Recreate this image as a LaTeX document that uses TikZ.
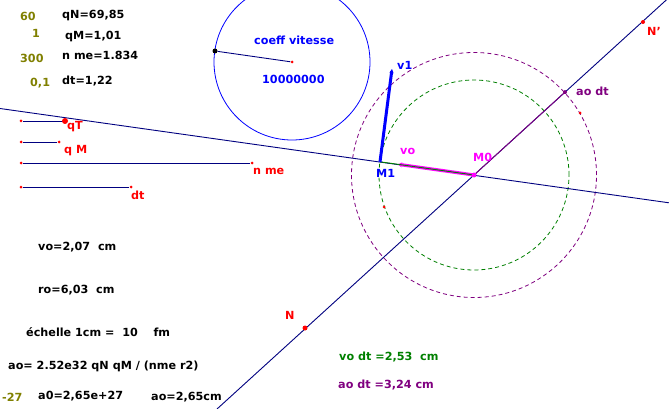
\documentclass[tikz,border=0pt]{standalone}
\usepackage{fontspec}
\setmainfont{DejaVu Sans}
\usetikzlibrary{arrows.meta}
\definecolor{olivetxt}{HTML}{808000}
\definecolor{navyline}{HTML}{000080}
\definecolor{redpt}{HTML}{FF0000}
\definecolor{bluetxt}{HTML}{0000FF}
\definecolor{greentxt}{HTML}{008000}
\definecolor{purpletxt}{HTML}{800080}
\definecolor{magentatxt}{HTML}{FF00FF}
\tikzset{
    lab/.style={font=\bfseries\fontsize{11.2}{12}\selectfont, inner sep=0pt, anchor=west},
    pt/.style={circle, fill=redpt, inner sep=0pt, minimum size=3pt},
    bigpt/.style={circle, fill=redpt, inner sep=0pt, minimum size=6pt},
    line/.style={navyline, line width=0.9pt},
    dashgreen/.style={greentxt, line width=0.8pt, dash pattern=on 4pt off 3pt},
    dashpurple/.style={purpletxt, line width=0.8pt, dash pattern=on 4pt off 3pt}
}
\begin{document}
\begin{tikzpicture}[x=1pt, y=-1pt]
    \useasboundingbox[fill=white] (0,0) rectangle (669,409);
    % cercles
    \node[draw=bluetxt, line width=0.8pt, circle, minimum size=156pt, inner sep=0pt] (cv) at (292,62) {};
    \node[draw, dashgreen, circle, minimum size=190pt, inner sep=0pt] (cg) at (474,175) {};
    \node[draw, dashpurple, circle, minimum size=245pt, inner sep=0pt] (cp) at (474,175) {};
    % points
    \coordinate (Mzero) at (474,175);
    \coordinate (Mone) at (380,161.8);
    \coordinate (vone) at (392,69);
    \coordinate (vo) at (398,164.3);
    \coordinate (aodt) at (565,92.1);
    \coordinate (Lg) at (0,108.5);
    \coordinate (Ld) at (669,202.8);
    \coordinate (Nb) at (217,409);
    \coordinate (Nh) at (669,-2.5);
    \node[pt] (pa) at (580,113) {};
    \node[pt] (pb) at (384,207) {};
    % droites
    \draw[line] (Lg) -- (Ld);
    \draw[line] (Nb) -- (Nh);
    \draw[purpletxt, line width=0.9pt] (Mzero) -- (aodt);
    \fill[purpletxt] (aodt) circle (2pt);
    \draw[magentatxt, line width=3.2pt, -{Stealth[length=4pt,width=5pt]}] (Mzero) -- (vo);
    \draw[greentxt, line width=0.9pt] (Mzero) -- (Mone);
    \draw[bluetxt, line width=3pt, -{Stealth[length=4pt,width=4pt]}] (Mone) -- (vone);
    \fill[magentatxt] (Mzero) circle (2.5pt);
    % curseurs
    \foreach \y/\xb/\nom in {121/65/a, 142/59/b, 163/252/c, 187/131/d} {
        \node[pt] (s\nom) at (21,\y) {};
        \node[pt] (e\nom) at (\xb,\y) {};
        \draw[line] (s\nom) -- (e\nom);
    }
    \node[bigpt] (qun) at (65,121) {};
    \node[circle, fill=black, inner sep=0pt, minimum size=5pt] (cvp) at (215,51) {};
    \node[pt] (cvc) at (292,62) {};
    \draw[line] (cvp) -- (cvc);
    \node[bigpt, minimum size=5pt] (Npt) at (305,328) {};
    \node[pt, minimum size=4pt] (Nppt) at (643,22) {};
    % textes olive
    \foreach \x/\y/\t in {20/16/60, 32/33/1, 20/58/300, 30/83/{0,1}, 2/397/-27} {
        \node[lab, olivetxt] at (\x,\y) {\t};
    }
    % textes noirs
    \foreach \x/\y/\t in {62/16/{qN=69,85}, 65/37/{qM=1,01}, 62/55/{n me=1.834}, 62/81/{dt=1,22},
        38/247/{vo=2,07\ \ cm}, 38/290/{ro=6,03\ \ cm}, 26/332/{échelle 1cm =\ \ 10\ \ \ \ fm},
        8/366/{ao= 2.52e32 qN qM / (nme r2)}, 38/396/{a0=2,65e+27}, 151/397/{ao=2,65cm}} {
        \node[lab, black] at (\x,\y) {\t};
    }
    % textes rouges
    \foreach \x/\y/\t in {67/127/qT, 64/151/q M, 253/171/n me, 131/195/dt, 285/315/N, 647/31/N'} {
        \node[lab, redpt] at (\x,\y) {\t};
    }
    % textes couleurs
    \node[lab, bluetxt] at (254,40) {coeff vitesse};
    \node[lab, bluetxt] at (262,79) {10000000};
    \node[lab, bluetxt] at (397,65) {v1};
    \node[lab, bluetxt] at (376,173) {M1};
    \node[lab, magentatxt] at (400,151) {vo};
    \node[lab, magentatxt] at (473,157) {M0};
    \node[lab, purpletxt] at (576,91) {ao dt};
    \node[lab, greentxt] at (339,357) {vo dt =2,53\ \ cm};
    \node[lab, purpletxt] at (338,385) {ao dt =3,24 cm};
\end{tikzpicture}
\end{document}
